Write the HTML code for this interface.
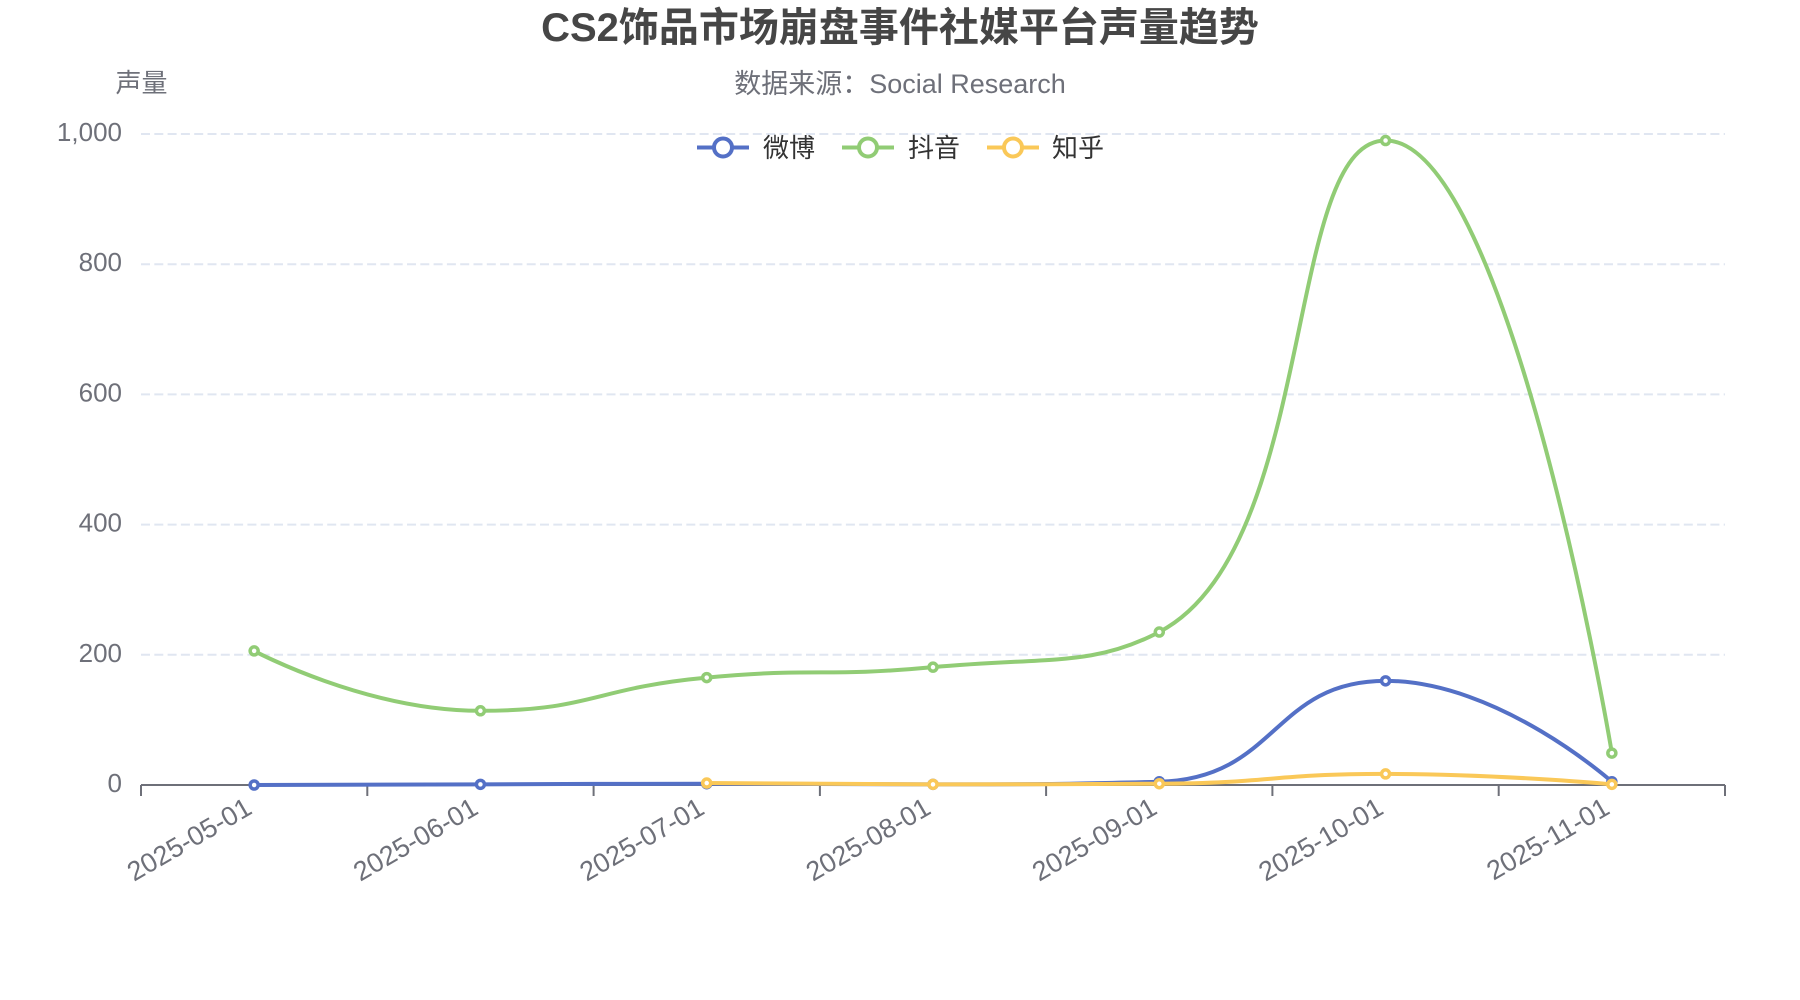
<!DOCTYPE html>
<html>
<head>
<meta charset="utf-8">
<style>
  html,body{margin:0;padding:0;background:#fff;}
  svg{display:block;}
  text{font-family:"Liberation Sans","Noto Sans CJK SC",sans-serif;}
</style>
</head>
<body>
<svg id="chart" width="1800" height="1000" viewBox="0 0 1800 1000" xmlns="http://www.w3.org/2000/svg">
  <rect width="1800" height="1000" fill="#ffffff"/>
  <!-- Title -->
  <text x="900" y="28" text-anchor="middle" dominant-baseline="central" font-size="40" font-weight="bold" fill="#464646">CS2饰品市场崩盘事件社媒平台声量趋势</text>
  <text x="900" y="84" text-anchor="middle" dominant-baseline="central" font-size="27" fill="#6e7079">数据来源：Social Research</text>
  <!-- Y axis name -->
  <text x="141.5" y="83" text-anchor="middle" dominant-baseline="central" font-size="26" fill="#6e7079">声量</text>

  <!-- Grid lines -->
  <g stroke="#e0e6f1" stroke-width="2" stroke-dasharray="9 4.3" fill="none">
    <line x1="141" y1="134" x2="1725" y2="134"/>
    <line x1="141" y1="264.2" x2="1725" y2="264.2"/>
    <line x1="141" y1="394.4" x2="1725" y2="394.4"/>
    <line x1="141" y1="524.6" x2="1725" y2="524.6"/>
    <line x1="141" y1="654.8" x2="1725" y2="654.8"/>
  </g>

  <!-- Y tick labels -->
  <g font-size="26" fill="#6e7079" text-anchor="end" dominant-baseline="central">
    <text x="122" y="132">1,000</text>
    <text x="122" y="262.2">800</text>
    <text x="122" y="392.4">600</text>
    <text x="122" y="522.6">400</text>
    <text x="122" y="652.8">200</text>
    <text x="122" y="783">0</text>
  </g>

  <!-- X axis -->
  <line x1="141" y1="785" x2="1725" y2="785" stroke="#6e7079" stroke-width="2"/>
  <g stroke="#6e7079" stroke-width="2">
    <line x1="141" y1="785" x2="141" y2="796"/>
    <line x1="367.3" y1="785" x2="367.3" y2="796"/>
    <line x1="593.6" y1="785" x2="593.6" y2="796"/>
    <line x1="819.9" y1="785" x2="819.9" y2="796"/>
    <line x1="1046.1" y1="785" x2="1046.1" y2="796"/>
    <line x1="1272.4" y1="785" x2="1272.4" y2="796"/>
    <line x1="1498.7" y1="785" x2="1498.7" y2="796"/>
    <line x1="1725" y1="785" x2="1725" y2="796"/>
  </g>

  <!-- X labels -->
  <g font-size="27" fill="#6e7079" text-anchor="end" dominant-baseline="central">
    <text x="249.1" y="805" transform="rotate(-30 249.1 805)">2025-05-01</text>
    <text x="475.4" y="805" transform="rotate(-30 475.4 805)">2025-06-01</text>
    <text x="701.7" y="805" transform="rotate(-30 701.7 805)">2025-07-01</text>
    <text x="928" y="805" transform="rotate(-30 928 805)">2025-08-01</text>
    <text x="1154.3" y="805" transform="rotate(-30 1154.3 805)">2025-09-01</text>
    <text x="1380.6" y="805" transform="rotate(-30 1380.6 805)">2025-10-01</text>
    <text x="1606.9" y="805" transform="rotate(-30 1606.9 805)">2025-11-01</text>
  </g>

  <!-- Legend -->
  <g stroke-width="4" fill="#fff">
    <line x1="697" y1="147.5" x2="749" y2="147.5" stroke="#5470c6"/>
    <circle cx="723" cy="147.5" r="9" stroke="#5470c6"/>
    <line x1="842" y1="147.5" x2="894" y2="147.5" stroke="#91cc75"/>
    <circle cx="868" cy="147.5" r="9" stroke="#91cc75"/>
    <line x1="987" y1="147.5" x2="1039" y2="147.5" stroke="#fac858"/>
    <circle cx="1013" cy="147.5" r="9" stroke="#fac858"/>
  </g>
  <g font-size="26" fill="#333" dominant-baseline="central">
    <text x="763" y="148">微博</text>
    <text x="908" y="148">抖音</text>
    <text x="1052" y="148">知乎</text>
  </g>

  <g id="series"></g>
</svg>
<script>
(function(){
  var NS="http://www.w3.org/2000/svg";
  function X(i){return 141+226.2857*(i+0.5);}
  function Y(v){return 785-0.651*v;}
  function smoothPath(pts){
    var s=0.5,d='',prevX,prevY,cpx0,cpy0,cpx1,cpy1,n=pts.length;
    for(var k=0;k<n;k++){
      var x=pts[k][0],y=pts[k][1];
      if(k===0){d+='M'+x.toFixed(2)+' '+y.toFixed(2);cpx0=x;cpy0=y;}
      else{
        var nextCpx0,nextCpy0;
        if(k+1>=n){cpx1=x;cpy1=y;}
        else{
          var nextX=pts[k+1][0],nextY=pts[k+1][1];
          var vx=nextX-prevX,vy=nextY-prevY;
          var dx0=x-prevX,dx1=nextX-x,dy0=y-prevY,dy1=nextY-y;
          var lp=Math.sqrt(dx0*dx0+dy0*dy0),ln=Math.sqrt(dx1*dx1+dy1*dy1);
          var r=ln/(ln+lp);
          nextCpx0=x+vx*s*r;nextCpy0=y+vy*s*r;
          nextCpx0=Math.min(nextCpx0,Math.max(nextX,x));nextCpy0=Math.min(nextCpy0,Math.max(nextY,y));
          nextCpx0=Math.max(nextCpx0,Math.min(nextX,x));nextCpy0=Math.max(nextCpy0,Math.min(nextY,y));
          vx=nextCpx0-x;vy=nextCpy0-y;
          cpx1=x-vx*lp/ln;cpy1=y-vy*lp/ln;
          cpx1=Math.min(cpx1,Math.max(prevX,x));cpy1=Math.min(cpy1,Math.max(prevY,y));
          cpx1=Math.max(cpx1,Math.min(prevX,x));cpy1=Math.max(cpy1,Math.min(prevY,y));
          vx=x-cpx1;vy=y-cpy1;
          nextCpx0=x+vx*ln/lp;nextCpy0=y+vy*ln/lp;
        }
        d+='C'+cpx0.toFixed(2)+' '+cpy0.toFixed(2)+' '+cpx1.toFixed(2)+' '+cpy1.toFixed(2)+' '+x.toFixed(2)+' '+y.toFixed(2);
        cpx0=nextCpx0;cpy0=nextCpy0;
      }
      prevX=x;prevY=y;
    }
    return d;
  }
  var series=[
    {c:"#5470c6",d:[0,1,2,1,5,160,5]},
    {c:"#91cc75",d:[206,114,165,181,235,990,49]},
    {c:"#fac858",d:[null,null,3,1,2,17,1]}
  ];
  var g=document.getElementById("series");
  series.forEach(function(s){
    var pts=[];
    s.d.forEach(function(v,i){if(v!==null)pts.push([X(i),Y(v)]);});
    var p=document.createElementNS(NS,"path");
    p.setAttribute("d",smoothPath(pts));
    p.setAttribute("fill","none");
    p.setAttribute("stroke",s.c);
    p.setAttribute("stroke-width","4");
    p.setAttribute("stroke-linejoin","round");
    g.appendChild(p);
    pts.forEach(function(pt){
      var c=document.createElementNS(NS,"circle");
      c.setAttribute("cx",pt[0]);c.setAttribute("cy",pt[1]);c.setAttribute("r","4");
      c.setAttribute("fill","#fff");c.setAttribute("stroke",s.c);c.setAttribute("stroke-width","3.5");
      g.appendChild(c);
    });
  });
})();
</script>
</body>
</html>
